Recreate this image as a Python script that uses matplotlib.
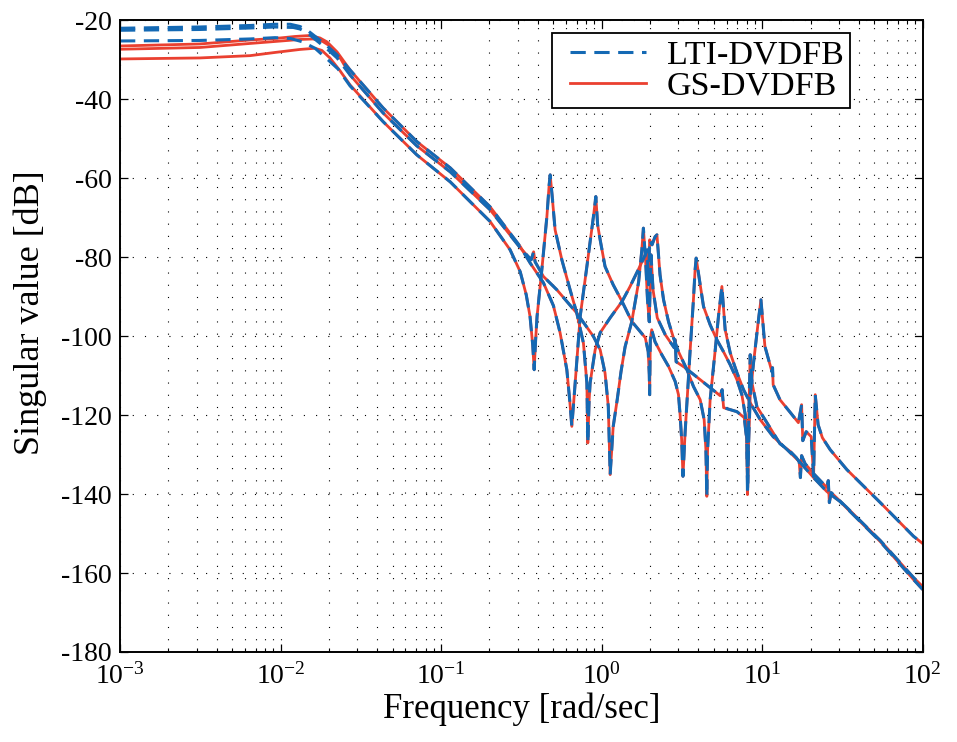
import matplotlib
matplotlib.use("Agg")
import matplotlib.pyplot as plt
from matplotlib.lines import Line2D
from matplotlib.legend_handler import HandlerLine2D
from matplotlib.ticker import LogLocator, NullFormatter, MultipleLocator

plt.rcParams["font.family"] = ["Liberation Serif", "DejaVu Serif"]
plt.rcParams["mathtext.fontset"] = "custom"
plt.rcParams["mathtext.rm"] = "Liberation Serif"
plt.rcParams["mathtext.it"] = "Liberation Serif:italic"
plt.rcParams["axes.unicode_minus"] = False

# --- low-frequency part (controllers differ here) ---
gs1_f = [0.001, 0.00315, 0.00646, 0.00924, 0.0123, 0.0153, 0.0176, 0.0195, 0.0225, 0.0271]
gs1_db = [-26.46, -25.95, -24.94, -24.56, -24.05, -23.80, -24.43, -25.44, -27.97, -32.53]
gs2_f = [0.001, 0.00315, 0.00646, 0.00924, 0.0132, 0.0159, 0.0181, 0.0203, 0.0235, 0.0271]
gs2_db = [-27.29, -26.84, -25.82, -25.32, -24.81, -24.68, -25.19, -26.46, -29.49, -33.80]
gs3_f = [0.001, 0.00315, 0.00646, 0.00924, 0.0132, 0.0164, 0.0181, 0.0203, 0.0235, 0.0271]
gs3_db = [-29.75, -29.49, -28.91, -28.10, -27.34, -27.04, -27.59, -29.49, -32.78, -36.33]

lti1_f = [0.001, 0.00315, 0.00646, 0.00924, 0.0115, 0.0132, 0.0146, 0.0169, 0.0195, 0.0225, 0.0271]
lti1_db = [-21.97, -21.65, -21.27, -20.96, -20.96, -21.52, -22.41, -24.43, -26.46, -28.73, -32.53]
lti2_f = [0.001, 0.00315, 0.00646, 0.00924, 0.0120, 0.0132, 0.0146, 0.0169, 0.0195, 0.0225, 0.0271]
lti2_db = [-22.48, -22.28, -21.90, -21.65, -21.77, -22.15, -23.04, -25.19, -27.22, -29.49, -33.80]
lti3_f = [0.001, 0.00315, 0.00646, 0.00924, 0.0115, 0.0136, 0.0164, 0.0198, 0.0228, 0.0271]
lti3_db = [-25.19, -25.06, -24.68, -24.35, -24.56, -25.37, -27.04, -30.0, -32.28, -36.58]

# --- high-frequency part (both controllers coincide) ---
tail1_f = [0.0435, 0.0706, 0.114, 0.202, 0.311, 0.358, 0.434, 0.501, 0.551, 0.607,
           0.632, 0.652, 0.684, 0.735, 0.809, 0.889, 0.920, 0.944, 0.979, 1.05,
           1.18, 1.34, 1.54, 1.70, 1.87, 1.95, 1.98, 1.99, 2.01, 2.05,
           2.15, 2.37, 2.61, 2.87, 3.01, 3.08, 3.15, 3.21, 3.31, 3.56,
           3.73, 3.82, 3.88, 4.11, 4.31, 4.74, 5.22, 5.74, 6.32, 6.96,
           7.47, 7.84, 8.03, 8.10, 8.22, 8.42, 8.83, 9.48, 9.82, 10.4,
           11.5, 11.6, 11.7, 12.9, 15.0, 16.8, 17.6, 17.9, 18.8, 20.2,
           20.9, 21.4, 22.3, 23.7, 26.5, 33.7, 54.4, 87.6, 100]
tail1_db = [-42.15, -50.68, -57.34, -67.22, -77.27, -81.39, -86.46, -92.28, -99.11, -108.48,
            -116.08, -122.84, -111.85, -94.99, -82.33, -69.67, -64.61, -71.77, -75.57, -82.33,
            -86.96, -91.19, -96.25, -98.35, -100.38, -103.92, -109.75, -114.81, -100.89, -98.35,
            -101.39, -104.68, -107.65, -111.44, -114.81, -119.87, -126.20, -135.49, -124.43, -103.42,
            -90.76, -83.16, -80.20, -86.96, -92.46, -97.09, -100.89, -103.92, -107.22, -111.01,
            -114.81, -119.87, -126.20, -140.13, -127.90, -115.24, -106.78, -95.82, -90.76, -102.58,
            -108.99, -107.97, -112.28, -116.08, -119.37, -121.90, -117.34, -126.46, -124.18, -125.44,
            -135.57, -114.81, -122.41, -125.70, -128.73, -133.80, -142.15, -150.68, -152.53]

tail2_f = [0.0435, 0.0706, 0.114, 0.202, 0.311, 0.364, 0.377, 0.385, 0.434, 0.526,
           0.700, 0.889, 0.979, 1.05, 1.10, 1.13, 1.18, 1.25, 1.32, 1.40,
           1.54, 1.70, 1.78, 1.82, 1.88, 1.93, 1.98, 2.01, 2.03, 2.09,
           2.22, 2.49, 2.83, 2.87, 2.91, 3.31, 4.11, 5.47, 5.63, 5.75,
           6.96, 7.73, 8.01, 8.12, 8.24, 8.42, 8.63, 9.27, 10.7, 12.9,
           15.0, 16.3, 17.0, 17.3, 17.6, 18.5, 20.9, 25.3, 25.8, 26.2,
           26.9, 33.7, 54.4, 87.6, 100]
tail2_db = [-43.42, -51.77, -58.35, -67.97, -77.59, -80.63, -78.61, -81.14, -84.86, -88.23,
            -94.13, -100.05, -103.42, -109.32, -117.77, -135.06, -122.91, -116.08, -108.99, -102.66,
            -96.33, -86.20, -78.10, -72.61, -81.14, -90.76, -96.33, -85.70, -79.37, -88.23,
            -95.32, -99.62, -102.91, -100.89, -106.46, -107.97, -111.01, -115.06, -113.54, -118.10,
            -119.11, -120.63, -126.20, -138.35, -121.14, -104.68, -111.77, -117.85, -121.90, -127.22,
            -129.24, -130.76, -131.77, -135.82, -130.25, -132.28, -134.81, -138.35, -136.58, -142.15,
            -139.62, -143.42, -151.77, -161.14, -163.42]

tail3_f = [0.0435, 0.0706, 0.114, 0.202, 0.269, 0.311, 0.339, 0.358, 0.372, 0.380,
           0.388, 0.396, 0.424, 0.456, 0.471, 0.478, 0.491, 0.513, 0.565, 0.636,
           0.700, 0.770, 0.809, 0.820, 0.836, 0.848, 0.911, 0.979, 1.13, 1.34,
           1.50, 1.69, 1.87, 1.92, 1.96, 1.99, 2.06, 2.15, 2.21, 2.26,
           2.31, 2.43, 2.61, 2.80, 3.01, 3.40, 3.73, 4.11, 4.35, 4.46,
           4.52, 4.57, 4.74, 5.10, 5.34, 5.61, 5.88, 6.32, 6.96, 7.65,
           8.42, 9.72, 11.7, 14.3, 17.3, 20.9, 25.3, 30.6, 54.4, 87.6, 100]
tail3_db = [-45.62, -54.05, -60.89, -70.94, -78.10, -83.67, -89.49, -94.99, -102.15, -108.48,
            -100.89, -94.99, -83.16, -69.67, -61.65, -59.11, -64.18, -73.04, -80.63, -88.23,
            -94.13, -101.72, -111.85, -127.04, -116.08, -111.77, -103.42, -99.11, -95.32, -91.19,
            -87.47, -83.16, -79.37, -78.10, -86.96, -75.57, -76.84, -74.81, -74.30, -79.37,
            -84.43, -90.76, -96.33, -100.38, -103.92, -108.48, -112.71, -116.08, -121.14, -128.73,
            -140.56, -128.73, -116.08, -103.42, -94.99, -87.39, -98.35, -104.18, -109.24, -113.54,
            -116.84, -121.14, -125.44, -128.73, -132.03, -135.82, -139.37, -141.90, -152.03, -161.65, -164.18]

blue = "#1469B4"
red = "#EA4030"
dash = (0, (5.0, 2.8))

fig = plt.figure(figsize=(9.57, 7.42), dpi=100)
ax = fig.add_axes([0.1254, 0.1213, 0.8388, 0.8511])

gs = [(gs1_f, gs1_db), (gs2_f, gs2_db), (gs3_f, gs3_db)]
lti = [(lti1_f, lti1_db), (lti2_f, lti2_db), (lti3_f, lti3_db)]
tails = [(tail1_f, tail1_db), (tail2_f, tail2_db), (tail3_f, tail3_db)]

# GS first (solid red), LTI on top (dashed blue)
for (f, db), (tf, tdb) in zip(gs, tails):
    ax.plot(f + tf, db + tdb, color=red, lw=2.0, solid_joinstyle="round")
for (f, db), (tf, tdb) in zip(lti, tails):
    ax.plot(f + tf, db + tdb, color=blue, lw=2.2, linestyle=dash)

ax.set_xscale("log")
ax.set_xlim(1e-3, 1e2)
ax.set_ylim(-180, -20)
ax.yaxis.set_major_locator(MultipleLocator(20))
ax.xaxis.set_major_locator(LogLocator(base=10, numticks=10))
ax.xaxis.set_minor_locator(LogLocator(base=10, subs=range(2, 10), numticks=20))
ax.xaxis.set_minor_formatter(NullFormatter())

grid_style = dict(color="k", linestyle=(0, (1, 10)), linewidth=0.8)
ax.grid(True, which="major", axis="both", **grid_style)
ax.grid(True, which="minor", axis="x", **grid_style)

ax.tick_params(which="both", direction="in", top=True, right=True, labelsize=20)
ax.tick_params(which="major", length=6, width=0.9)
ax.tick_params(which="minor", length=3, width=0.8)
ax.tick_params(axis="x", pad=8)
ax.tick_params(axis="y", pad=6)
for s in ax.spines.values():
    s.set_linewidth(1.4)

ax.set_xlabel("Frequency [rad/sec]", fontsize=25, labelpad=2)
ax.set_ylabel("Singular value [dB]", fontsize=26)
ax.yaxis.set_label_coords(-0.091, 0.538)

handles = [Line2D([], [], color=blue, lw=2.2, linestyle=dash),
           Line2D([], [], color=red, lw=2.0)]
leg = ax.legend(handles, ["LTI-DVDFB", "GS-DVDFB"], loc="upper left",
                bbox_to_anchor=(552 / 957, 1 - 33 / 742), bbox_transform=fig.transFigure,
                borderaxespad=0, fontsize=24.5, fancybox=False, framealpha=1,
                edgecolor="k", handlelength=2.55, handletextpad=0.62,
                labelspacing=0.0, borderpad=0.2,
                handler_map={Line2D: HandlerLine2D(xpad=0.34)})
leg.get_frame().set_linewidth(1.3)

fig.savefig("out.png", dpi=100)
